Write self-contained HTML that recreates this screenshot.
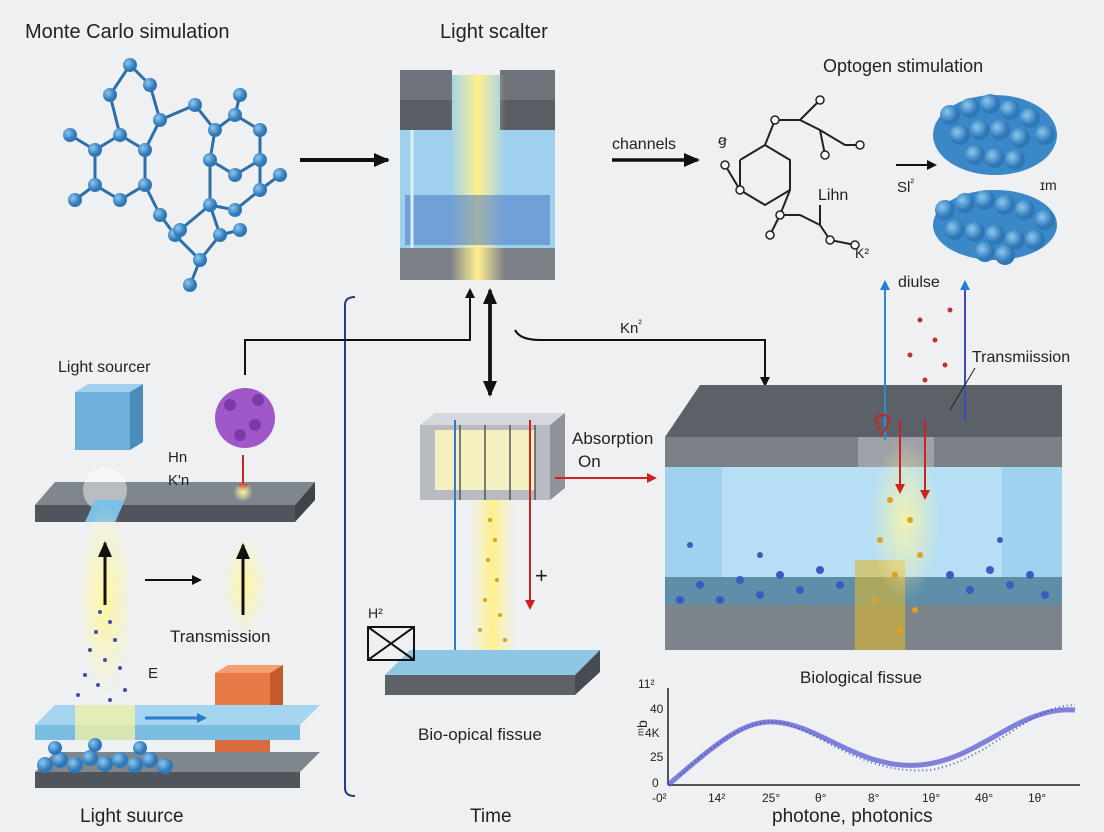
<!DOCTYPE html>
<html><head><meta charset="utf-8"><style>
html,body{margin:0;padding:0;background:#eef0f2;}
svg{display:block;font-family:"Liberation Sans",sans-serif;}
</style></head><body>
<svg width="1104" height="832" viewBox="0 0 1104 832" xmlns="http://www.w3.org/2000/svg">
<defs>
<marker id="ak" markerWidth="10" markerHeight="10" refX="8" refY="5" orient="auto" markerUnits="userSpaceOnUse"><path d="M0,0 L10,5 L0,10z" fill="#111"/></marker>
<marker id="ar" markerWidth="10" markerHeight="10" refX="8" refY="5" orient="auto" markerUnits="userSpaceOnUse"><path d="M0,0 L10,5 L0,10z" fill="#c22"/></marker>
<marker id="ab" markerWidth="10" markerHeight="10" refX="8" refY="5" orient="auto" markerUnits="userSpaceOnUse"><path d="M0,0 L10,5 L0,10z" fill="#2a7bd0"/></marker>
<marker id="akl" markerWidth="16" markerHeight="14" refX="14" refY="7" orient="auto" markerUnits="userSpaceOnUse"><path d="M0,0 L16,7 L0,14z" fill="#111"/></marker>
<radialGradient id="glow"><stop offset="0" stop-color="#fff7a0" stop-opacity="1"/><stop offset="1" stop-color="#fff7a0" stop-opacity="0"/></radialGradient>
<linearGradient id="beam" x1="0" x2="1"><stop offset="0" stop-color="#fff3a0" stop-opacity="0"/><stop offset=".5" stop-color="#fff08a"/><stop offset="1" stop-color="#fff3a0" stop-opacity="0"/></linearGradient>
<radialGradient id="ball" cx=".35" cy=".35"><stop offset="0" stop-color="#8cc8f0"/><stop offset="1" stop-color="#2f78b8"/></radialGradient>
</defs>
<rect width="1104" height="832" fill="#eef0f2"/>

<text x="25" y="38" font-size="20" fill="#222">Monte Carlo simulation</text>
<text x="440" y="38" font-size="20" fill="#222">Light scalter</text>
<text x="823" y="72" font-size="18" fill="#222">Optogen stimulation</text>

<g stroke="#2f6fa8" stroke-width="3" fill="none">
<polyline points="95,150 95,185 120,200 145,185 145,150 120,135 95,150"/>
<polyline points="145,150 160,120 150,85 130,65 110,95 120,135"/>
<polyline points="145,185 160,215 175,235 200,260 220,235 210,205 180,230"/>
<polyline points="160,120 195,105 215,130 210,160 235,175 260,160 260,130 235,115 215,130"/>
<polyline points="210,205 235,210 260,190 260,160"/>
<line x1="210" y1="205" x2="210" y2="160"/>
<line x1="95" y1="150" x2="70" y2="135"/><line x1="95" y1="185" x2="75" y2="200"/>
<line x1="200" y1="260" x2="190" y2="285"/><line x1="220" y1="235" x2="240" y2="230"/>
<line x1="260" y1="190" x2="280" y2="175"/><line x1="235" y1="115" x2="240" y2="95"/>
</g>
<g fill="url(#ball)">
<circle cx="95" cy="150" r="7"/><circle cx="95" cy="185" r="7"/><circle cx="120" cy="200" r="7"/><circle cx="145" cy="185" r="7"/><circle cx="145" cy="150" r="7"/><circle cx="120" cy="135" r="7"/>
<circle cx="160" cy="120" r="7"/><circle cx="150" cy="85" r="7"/><circle cx="130" cy="65" r="7"/><circle cx="110" cy="95" r="7"/>
<circle cx="160" cy="215" r="7"/><circle cx="175" cy="235" r="7"/><circle cx="200" cy="260" r="7"/><circle cx="220" cy="235" r="7"/><circle cx="210" cy="205" r="7"/><circle cx="180" cy="230" r="7"/>
<circle cx="195" cy="105" r="7"/><circle cx="215" cy="130" r="7"/><circle cx="210" cy="160" r="7"/><circle cx="235" cy="175" r="7"/><circle cx="260" cy="160" r="7"/><circle cx="260" cy="130" r="7"/><circle cx="235" cy="115" r="7"/>
<circle cx="235" cy="210" r="7"/><circle cx="260" cy="190" r="7"/>
<circle cx="70" cy="135" r="7"/><circle cx="75" cy="200" r="7"/><circle cx="190" cy="285" r="7"/><circle cx="240" cy="230" r="7"/><circle cx="280" cy="175" r="7"/><circle cx="240" cy="95" r="7"/>
</g>
<line x1="300" y1="160" x2="388" y2="160" stroke="#111" stroke-width="4" marker-end="url(#akl)"/>

<rect x="400" y="75" width="155" height="205" fill="#9fd0ec"/>
<rect x="400" y="75" width="52" height="55" fill="#5a5f66"/>
<rect x="500" y="75" width="55" height="55" fill="#5a5f66"/>
<rect x="400" y="70" width="52" height="30" fill="#6e737a"/>
<rect x="500" y="70" width="55" height="30" fill="#6e737a"/>
<rect x="400" y="248" width="155" height="32" fill="#7b8087"/>
<rect x="450" y="75" width="55" height="205" fill="url(#beam)"/>
<rect x="405" y="195" width="145" height="50" fill="#3f6fc4" opacity=".5"/>
<line x1="412" y1="130" x2="412" y2="248" stroke="#dfeff8" stroke-width="3"/>

<text x="612" y="149" font-size="16" fill="#222">channels</text>
<line x1="612" y1="160" x2="698" y2="160" stroke="#111" stroke-width="3.5" marker-end="url(#akl)"/>

<g stroke="#222" stroke-width="2" fill="none">
<polyline points="740,160 765,145 790,160 790,190 765,205 740,190 740,160"/>
<polyline points="765,145 775,120 800,120 820,130 845,145 860,145"/>
<line x1="800" y1="120" x2="820" y2="100"/><line x1="820" y1="130" x2="825" y2="155"/>
<polyline points="790,190 780,215 800,215 820,225 830,240 855,245"/>
<line x1="780" y1="215" x2="770" y2="235"/><line x1="820" y1="225" x2="820" y2="205"/>
<line x1="740" y1="190" x2="725" y2="165"/>
</g>
<g fill="#fff" stroke="#222" stroke-width="1.5">
<circle cx="775" cy="120" r="4"/><circle cx="820" cy="100" r="4"/><circle cx="860" cy="145" r="4"/><circle cx="825" cy="155" r="4"/><circle cx="740" cy="190" r="4"/><circle cx="780" cy="215" r="4"/><circle cx="770" cy="235" r="4"/><circle cx="830" cy="240" r="4"/><circle cx="855" cy="245" r="4"/><circle cx="725" cy="165" r="4"/>
</g>
<text x="718" y="145" font-size="14" fill="#222">ꞡ</text>
<text x="818" y="200" font-size="16" fill="#222">Lihn</text>
<text x="855" y="258" font-size="14" fill="#222">K²</text>

<ellipse cx="995" cy="135" rx="62" ry="40" fill="#3a88c8"/>
<ellipse cx="995" cy="225" rx="62" ry="35" fill="#3a88c8"/>
<g fill="url(#ball)">
<circle cx="950" cy="115" r="10"/><circle cx="970" cy="108" r="10"/><circle cx="990" cy="104" r="10"/><circle cx="1010" cy="110" r="10"/><circle cx="1030" cy="118" r="10"/><circle cx="1045" cy="135" r="10"/><circle cx="960" cy="135" r="10"/><circle cx="980" cy="130" r="10"/><circle cx="1000" cy="130" r="10"/><circle cx="1020" cy="138" r="10"/><circle cx="975" cy="155" r="10"/><circle cx="995" cy="158" r="10"/><circle cx="1015" cy="160" r="10"/>
<circle cx="945" cy="210" r="10"/><circle cx="965" cy="203" r="10"/><circle cx="985" cy="200" r="10"/><circle cx="1005" cy="205" r="10"/><circle cx="1025" cy="210" r="10"/><circle cx="1045" cy="220" r="10"/><circle cx="955" cy="230" r="10"/><circle cx="975" cy="232" r="10"/><circle cx="995" cy="235" r="10"/><circle cx="1015" cy="240" r="10"/><circle cx="1035" cy="240" r="10"/><circle cx="985" cy="252" r="10"/><circle cx="1005" cy="255" r="10"/>
</g>
<text x="897" y="192" font-size="15" fill="#222">Sl<tspan font-size="11" dy="-6">²</tspan></text>
<line x1="896" y1="165" x2="935" y2="165" stroke="#111" stroke-width="2" marker-end="url(#ak)"/>
<text x="1040" y="190" font-size="14" fill="#222">ɪm</text>

<path d="M355,297 Q345,297 345,305 L345,788 Q345,796 355,796" stroke="#2a3a8a" stroke-width="2" fill="none"/>

<path d="M245,375 L245,340 L470,340 L470,290" stroke="#111" stroke-width="2" fill="none" marker-end="url(#ak)"/>
<line x1="490" y1="300" x2="490" y2="395" stroke="#111" stroke-width="3.5" marker-end="url(#akl)"/>
<line x1="490" y1="395" x2="490" y2="290" stroke="#111" stroke-width="3.5" marker-end="url(#akl)"/>
<path d="M515,330 Q520,340 540,340 L765,340 L765,385" stroke="#111" stroke-width="2" fill="none" marker-end="url(#ak)"/>
<text x="620" y="333" font-size="15" fill="#222">Kn<tspan font-size="10" dy="-6">²</tspan></text>

<text x="58" y="372" font-size="16" fill="#222">Light sourcer</text>
<rect x="75" y="392" width="55" height="58" fill="#6fb0d8"/>
<polygon points="75,392 88,384 143,384 130,392" fill="#9fd0ee"/>
<polygon points="130,392 143,384 143,442 130,450" fill="#4a8cbc"/>
<circle cx="245" cy="418" r="30" fill="#a058c8"/>
<g fill="#7a3aa8"><circle cx="230" cy="405" r="6"/><circle cx="255" cy="425" r="6"/><circle cx="240" cy="435" r="6"/><circle cx="258" cy="400" r="6"/></g>
<polygon points="35,505 55,482 315,482 295,505" fill="#80868d"/>
<polygon points="35,505 295,505 295,522 35,522" fill="#50555c"/>
<polygon points="295,505 315,482 315,500 295,522" fill="#3f444a"/>
<circle cx="105" cy="490" r="22" fill="#fff" opacity=".45"/>
<polygon points="85,522 95,500 125,500 115,522" fill="#7cc0e6"/>
<line x1="243" y1="455" x2="243" y2="492" stroke="#c22" stroke-width="2" marker-end="url(#ar)"/>
<text x="168" y="462" font-size="15" fill="#222">Hn</text>
<text x="168" y="485" font-size="15" fill="#222">K'n</text>
<ellipse cx="105" cy="600" rx="28" ry="95" fill="url(#glow)"/>
<ellipse cx="245" cy="585" rx="22" ry="50" fill="url(#glow)"/>
<circle cx="243" cy="492" r="10" fill="url(#glow)"/>
<line x1="105" y1="605" x2="105" y2="543" stroke="#111" stroke-width="3" marker-end="url(#akl)"/>
<line x1="243" y1="615" x2="243" y2="545" stroke="#111" stroke-width="3" marker-end="url(#akl)"/>
<line x1="145" y1="580" x2="200" y2="580" stroke="#111" stroke-width="2" marker-end="url(#ak)"/>
<text x="170" y="642" font-size="17" fill="#222">Transmission</text>
<text x="148" y="678" font-size="15" fill="#222">E</text>
<g fill="#3d4fb0">
<circle cx="100" cy="612" r="2"/><circle cx="110" cy="622" r="2"/><circle cx="96" cy="632" r="2"/><circle cx="115" cy="640" r="2"/><circle cx="90" cy="650" r="2"/><circle cx="105" cy="660" r="2"/><circle cx="120" cy="668" r="2"/><circle cx="85" cy="675" r="2"/><circle cx="98" cy="685" r="2"/><circle cx="125" cy="690" r="2"/><circle cx="78" cy="695" r="2"/><circle cx="110" cy="700" r="2"/>
</g>
<rect x="215" y="673" width="55" height="50" fill="#e87a48"/>
<polygon points="215,673 228,665 283,665 270,673" fill="#f0a070"/>
<polygon points="270,673 283,665 283,715 270,723" fill="#c45a2a"/>
<polygon points="35,725 55,705 320,705 300,725" fill="#a6d6ef"/>
<rect x="35" y="725" width="265" height="15" fill="#7bbde0"/>
<rect x="75" y="705" width="60" height="35" fill="#fff5a0" opacity=".7"/>
<line x1="145" y1="718" x2="205" y2="718" stroke="#2a7bd0" stroke-width="3" marker-end="url(#ab)"/>
<rect x="215" y="740" width="55" height="30" fill="#d86a40"/>
<polygon points="35,772 55,752 320,752 300,772" fill="#80868d"/>
<rect x="35" y="772" width="265" height="16" fill="#50555c"/>
<g fill="url(#ball)">
<circle cx="45" cy="765" r="8"/><circle cx="60" cy="760" r="8"/><circle cx="75" cy="765" r="8"/><circle cx="90" cy="758" r="8"/><circle cx="105" cy="764" r="8"/><circle cx="120" cy="760" r="8"/><circle cx="135" cy="765" r="8"/><circle cx="150" cy="760" r="8"/><circle cx="165" cy="766" r="8"/><circle cx="55" cy="748" r="7"/><circle cx="95" cy="745" r="7"/><circle cx="140" cy="748" r="7"/>
</g>
<text x="80" y="822" font-size="19" fill="#222">Light suurce</text>

<rect x="420" y="425" width="130" height="75" fill="#b8bcc2"/>
<polygon points="420,425 435,413 565,413 550,425" fill="#d4d7db"/>
<polygon points="550,425 565,413 565,488 550,500" fill="#8e9399"/>
<rect x="435" y="430" width="100" height="60" fill="#f5f0c0"/>
<g stroke="#555" stroke-width="1.5"><line x1="460" y1="425" x2="460" y2="500"/><line x1="485" y1="425" x2="485" y2="500"/><line x1="510" y1="425" x2="510" y2="500"/><line x1="535" y1="425" x2="535" y2="500"/></g>
<rect x="470" y="500" width="45" height="160" fill="url(#beam)"/>
<line x1="455" y1="420" x2="455" y2="660" stroke="#2a7bd0" stroke-width="2" marker-end="url(#ab)"/>
<line x1="530" y1="420" x2="530" y2="608" stroke="#c22" stroke-width="2" marker-end="url(#ar)"/>
<text x="535" y="583" font-size="22" fill="#222">+</text>
<g fill="#d8a020"><circle cx="490" cy="520" r="2"/><circle cx="495" cy="540" r="2"/><circle cx="488" cy="560" r="2"/><circle cx="497" cy="580" r="2"/><circle cx="485" cy="600" r="2"/><circle cx="500" cy="615" r="2"/><circle cx="480" cy="630" r="2"/><circle cx="505" cy="640" r="2"/></g>
<polygon points="385,675 410,650 600,650 575,675" fill="#8ec6e4"/>
<rect x="385" y="675" width="190" height="20" fill="#5c6268"/>
<polygon points="575,675 600,650 600,672 575,695" fill="#474c52"/>
<rect x="368" y="627" width="46" height="33" fill="none" stroke="#111" stroke-width="2"/>
<line x1="368" y1="627" x2="414" y2="660" stroke="#111" stroke-width="2"/><line x1="414" y1="627" x2="368" y2="660" stroke="#111" stroke-width="2"/>
<text x="368" y="618" font-size="14" fill="#222">H²</text>
<text x="418" y="740" font-size="17" fill="#222">Bio-opical fissue</text>
<text x="470" y="822" font-size="19" fill="#222">Time</text>
<text x="572" y="444" font-size="17" fill="#222">Absorption</text>
<text x="578" y="467" font-size="17" fill="#222">On</text>
<line x1="555" y1="478" x2="655" y2="478" stroke="#c22" stroke-width="2" marker-end="url(#ar)"/>

<polygon points="665,437 700,385 1062,385 1062,437" fill="#5c6168"/>
<rect x="665" y="437" width="397" height="30" fill="#7b8087"/>
<rect x="665" y="467" width="397" height="110" fill="#9fd2ef"/>
<rect x="722" y="467" width="280" height="110" fill="#b6def4"/>
<rect x="665" y="577" width="397" height="73" fill="#5f8fa8"/>
<rect x="665" y="605" width="397" height="45" fill="#7d848b"/>
<rect x="858" y="437" width="76" height="30" fill="#eef0f2" opacity=".3"/>
<polygon points="855,560 905,560 905,650 855,650" fill="#e0b830" opacity=".6"/>
<ellipse cx="905" cy="520" rx="35" ry="80" fill="url(#glow)" opacity=".8"/>
<g fill="#3a5cc0">
<circle cx="680" cy="600" r="4"/><circle cx="700" cy="585" r="4"/><circle cx="720" cy="600" r="4"/><circle cx="740" cy="580" r="4"/><circle cx="760" cy="595" r="4"/><circle cx="780" cy="575" r="4"/><circle cx="800" cy="590" r="4"/><circle cx="820" cy="570" r="4"/><circle cx="840" cy="585" r="4"/><circle cx="950" cy="575" r="4"/><circle cx="970" cy="590" r="4"/><circle cx="990" cy="570" r="4"/><circle cx="1010" cy="585" r="4"/><circle cx="1030" cy="575" r="4"/><circle cx="1045" cy="595" r="4"/><circle cx="690" cy="545" r="3"/><circle cx="760" cy="555" r="3"/><circle cx="1000" cy="540" r="3"/>
</g>
<g fill="#e0a020"><circle cx="890" cy="500" r="3"/><circle cx="910" cy="520" r="3"/><circle cx="880" cy="540" r="3"/><circle cx="920" cy="555" r="3"/><circle cx="895" cy="575" r="3"/><circle cx="875" cy="600" r="3"/><circle cx="915" cy="610" r="3"/><circle cx="900" cy="630" r="3"/></g>
<g fill="#c03030"><circle cx="920" cy="320" r="2.5"/><circle cx="935" cy="340" r="2.5"/><circle cx="910" cy="355" r="2.5"/><circle cx="945" cy="365" r="2.5"/><circle cx="925" cy="380" r="2.5"/><circle cx="950" cy="310" r="2.5"/></g>
<line x1="885" y1="440" x2="885" y2="282" stroke="#2a8ad8" stroke-width="2" marker-end="url(#ab)"/>
<line x1="965" y1="420" x2="965" y2="282" stroke="#3a4ac0" stroke-width="2" marker-end="url(#ab)"/>
<line x1="900" y1="420" x2="900" y2="492" stroke="#c22" stroke-width="2" marker-end="url(#ar)"/>
<line x1="925" y1="420" x2="925" y2="498" stroke="#c22" stroke-width="2" marker-end="url(#ar)"/>
<path d="M880,430 q-10,-15 5,-15 q10,5 -5,20" stroke="#c22" stroke-width="2" fill="none"/>
<text x="898" y="287" font-size="16" fill="#222">diulse</text>
<text x="972" y="362" font-size="16" fill="#222">Transmiission</text>
<line x1="975" y1="368" x2="950" y2="410" stroke="#222" stroke-width="1"/>
<text x="800" y="683" font-size="17" fill="#222">Biological fissue</text>

<line x1="668" y1="688" x2="668" y2="785" stroke="#222" stroke-width="1.5"/>
<line x1="668" y1="785" x2="1080" y2="785" stroke="#222" stroke-width="1.5"/>
<g font-size="12" fill="#222">
<text x="638" y="688">11²</text><text x="650" y="713">40</text><text x="645" y="737">4K</text><text x="650" y="761">25</text><text x="652" y="787">0</text>
<text x="652" y="802">-0²</text><text x="708" y="802">14²</text><text x="762" y="802">25°</text><text x="815" y="802">θ°</text><text x="868" y="802">8°</text><text x="922" y="802">1θ°</text><text x="975" y="802">4θ°</text><text x="1028" y="802">1θ°</text>
</g>
<text x="636" y="735" font-size="14" fill="#222" transform="rotate(-90 642 730)">ᵐb</text>
<path d="M668,785 C720,740 745,720 775,722 C820,725 860,770 920,765 C980,760 1020,705 1075,710" stroke="#5050d0" stroke-width="5" fill="none" opacity=".7"/>
<path d="M680,775 C730,730 760,715 790,725 C830,740 870,775 930,770 C990,760 1030,705 1075,705" stroke="#3040b0" stroke-width="2" fill="none" stroke-dasharray="1 3" opacity=".8"/>
<text x="772" y="822" font-size="19" fill="#222">photone, photonics</text>
</svg>
</body></html>
